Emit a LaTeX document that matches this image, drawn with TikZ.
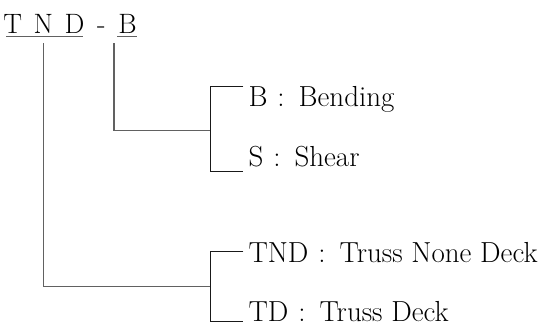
\documentclass[tikz,border=0pt]{standalone}
\usepackage{fontspec}
\begin{document}
\begin{tikzpicture}[x=1pt,y=-1pt,
  lbl/.style={anchor=base west,inner sep=0pt,font=\fontsize{29}{32}\selectfont},
  letter/.style={anchor=base,inner sep=0pt,font=\fontsize{28}{32}\selectfont},
  trunk/.style={draw=black!62,line width=1.3pt},
  brace/.style={draw=black!90,line width=1pt},
  uline/.style={draw=black!62,line width=1.3pt}]
\newcommand{\sep}[1]{\hspace{10pt}:\hspace{14pt}#1}
\useasboundingbox (0,0) rectangle (547,326);
% code letters
\node[letter] (cT) at (12.7,33.3) {T};
\node[letter] (cN) at (43.3,33.3) {N};
\node[letter] (cD) at (74.5,33.3) {D};
\node[letter] (dash) at (101.3,33.3) {-};
\node[letter] (cB) at (127.5,33.3) {B};
\coordinate (tu1) at (6,36.7);
\coordinate (tu2) at (83.3,36.7);
\coordinate (bu1) at (117.3,36.7);
\coordinate (bu2) at (136.7,36.7);
\draw[uline] (tu1) -- (tu2);
\draw[uline] (bu1) -- (bu2);
% load type branch
\coordinate (v2top) at (114,43.3);
\coordinate (j2) at (114,130.5);
\coordinate (k2) at (210.7,130.5);
\coordinate (k2a) at (210.7,86.7);
\coordinate (k2b) at (210.7,171.7);
\node[lbl] (bend) at (248.3,106.7) {B\sep{Bending}};
\node[lbl] (shear) at (248.3,166.7) {S\sep{Shear}};
\draw[trunk] (v2top) -- (j2) -- (k2);
\draw[brace] ([xshift=-5pt]bend.west |- k2a) -- (k2a) -- (k2b) -- ([xshift=-5pt]shear.west |- k2b);
% bridge type branch
\coordinate (v1top) at (43.3,43.3);
\coordinate (j1) at (43.3,286.7);
\coordinate (k1) at (210.7,286.7);
\coordinate (k1a) at (210.7,252);
\coordinate (k1b) at (210.7,321.7);
\node[lbl] (tnd) at (248.3,263) {TND\sep{Truss None Deck}};
\node[lbl] (td) at (248.3,321.7) {TD\sep{Truss Deck}};
\draw[trunk] (v1top) -- (j1) -- (k1);
\draw[brace] ([xshift=-5pt]tnd.west |- k1a) -- (k1a) -- (k1b) -- ([xshift=-5pt]td.west |- k1b);
\end{tikzpicture}
\end{document}
